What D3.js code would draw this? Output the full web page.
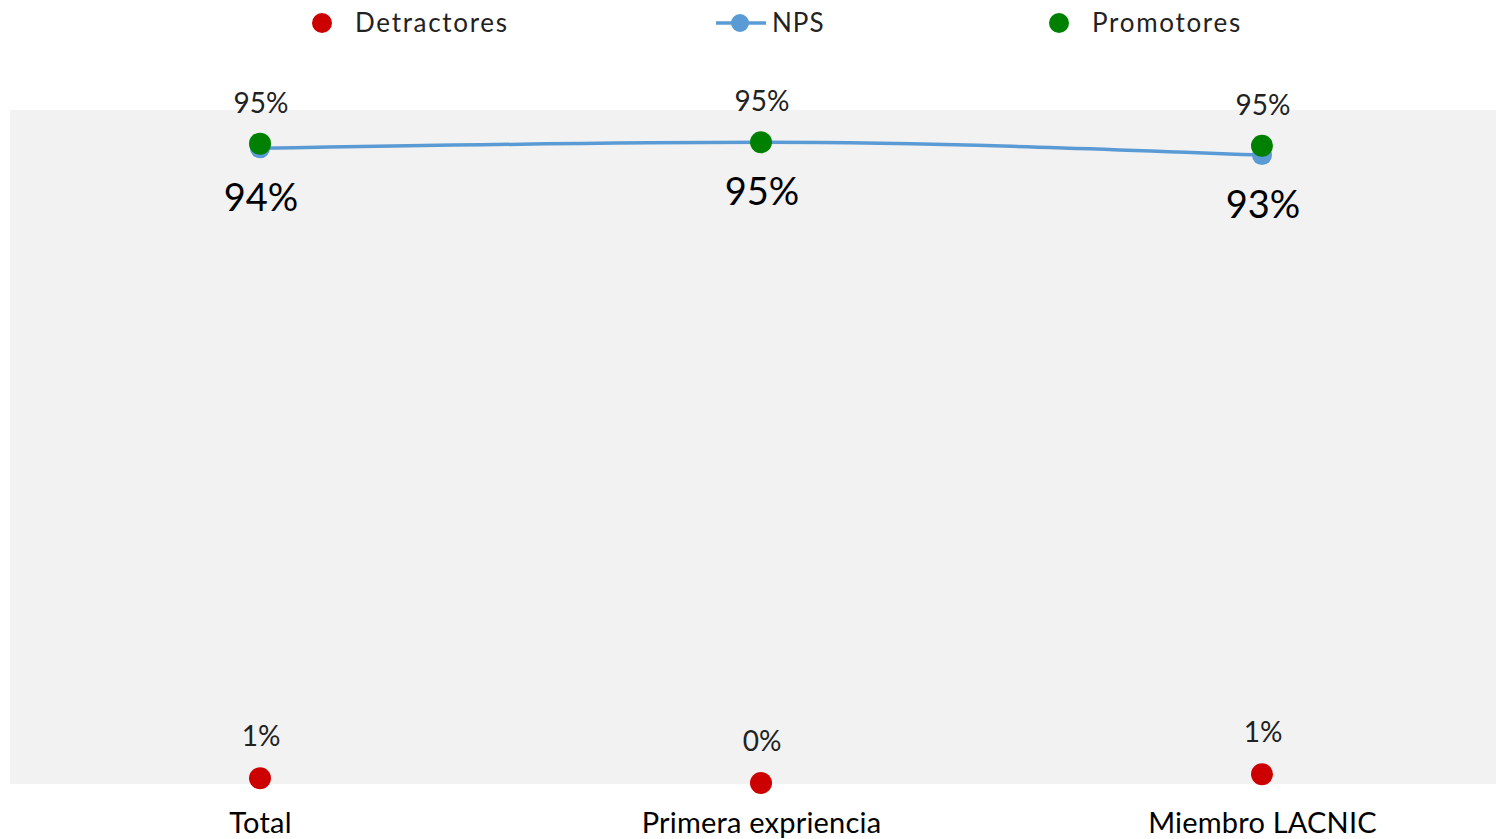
<!DOCTYPE html>
<html><head><meta charset="utf-8">
<script src="https://cdn.jsdelivr.net/npm/d3@7"></script>
<style>body{margin:0;background:#fff}svg{display:block;font-family:Lato,"Open Sans",sans-serif}</style>
</head><body>
<svg id="c" width="1496" height="839"></svg>
<script>
const categories = ["Total", "Primera expriencia", "Miembro LACNIC"];
const promotores = [0.950, 0.952, 0.947];
const nps = [0.943, 0.952, 0.933];
const detractores = [0.007, 0.000, 0.013];
const seriesNames = ["Detractores", "NPS", "Promotores"];
const colors = {Detractores: "#cc0000", NPS: "#5b9bd5", Promotores: "#008000"};

const svg = d3.select("#c");
const x = d3.scalePoint().domain(categories).range([260, 1262]);
const y = d3.scaleLinear().domain([0, 1]).range([783, 110]);
const fmt = d3.format(".0%");

svg.append("rect").attr("x", 10).attr("y", y(1)).attr("width", 1486).attr("height", y(0) + 1 - y(1)).attr("fill", "#f2f2f2");

// NPS line
const line = d3.line().x((d, i) => x(categories[i])).y(d => y(d)).curve(d3.curveMonotoneX);
svg.append("path").datum(nps).attr("d", line).attr("fill", "none").attr("stroke", colors.NPS).attr("stroke-width", 3.5);
svg.selectAll(".npsPt").data(nps).join("circle").attr("cx", (d, i) => x(categories[i])).attr("cy", d => y(d)).attr("r", 10).attr("fill", colors.NPS);

svg.selectAll(".proPt").data(promotores).join("circle").attr("class", "proPt").attr("cx", (d, i) => x(categories[i])).attr("cy", d => y(d)).attr("r", 11).attr("fill", colors.Promotores);
svg.selectAll(".detPt").data(detractores).join("circle").attr("class", "detPt").attr("cx", (d, i) => x(categories[i])).attr("cy", d => y(d)).attr("r", 11).attr("fill", colors.Detractores);

// labels
svg.selectAll(".proLbl").data(promotores).join("text").attr("class", "proLbl")
  .attr("x", (d, i) => x(categories[i]) + 1).attr("y", d => y(d) - 31)
  .attr("text-anchor", "middle").attr("font-size", 28).attr("fill", "#222").text(d => fmt(d));
svg.selectAll(".npsLbl").data(nps).join("text").attr("class", "npsLbl")
  .attr("x", (d, i) => x(categories[i]) + 1).attr("y", d => y(d) + 63)
  .attr("text-anchor", "middle").attr("font-size", 38).attr("fill", "#000").text(d => fmt(d));
svg.selectAll(".detLbl").data(detractores).join("text").attr("class", "detLbl")
  .attr("x", (d, i) => x(categories[i]) + 1).attr("y", d => y(d) - 32)
  .attr("text-anchor", "middle").attr("font-size", 28).attr("fill", "#222").text(d => fmt(d));

// x axis
const ax = svg.append("g").attr("transform", `translate(0,${y(0)})`).call(d3.axisBottom(x).tickSize(0).tickPadding(0));
ax.select(".domain").remove();
ax.selectAll("text").attr("font-size", 29).attr("font-family", "Lato,'Open Sans',sans-serif").attr("fill", "#000").attr("dy", 0).attr("y", 50).attr("letter-spacing", 0.2);

// legend
const legX = [322, 740, 1059];
const lg = svg.append("g");
seriesNames.forEach((s, i) => {
  const g = lg.append("g").attr("transform", `translate(${legX[i]},23)`);
  if (s === "NPS") {
    g.append("line").attr("x1", -24).attr("x2", 26).attr("stroke", colors[s]).attr("stroke-width", 3.5);
    g.append("circle").attr("r", 9).attr("fill", colors[s]);
    g.append("text").attr("x", 32).attr("y", 9).attr("font-size", 26).attr("letter-spacing", 1).attr("fill", "#222").text(s);
  } else {
    g.append("circle").attr("r", 10).attr("fill", colors[s]);
    g.append("text").attr("x", 33).attr("y", 9).attr("font-size", 26).attr("letter-spacing", 1.7).attr("fill", "#222").text(s);
  }
});
</script>
</body></html>
